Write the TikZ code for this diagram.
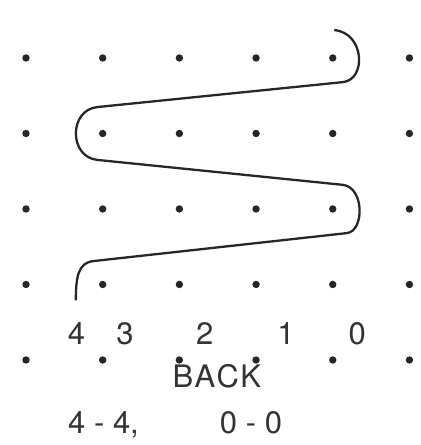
\documentclass[tikz,border=0pt]{standalone}
\usepackage{fontspec}
\setmainfont{TeX Gyre Heros}
\begin{document}
\begin{tikzpicture}[
    x=2cm, y=1.969cm,
    grid dot/.style={circle, fill=black!85, inner sep=0pt, minimum size=5.5pt},
    yarn/.style={line width=1.7pt, black!85},
    label text/.style={font=\fontsize{23}{23}\selectfont, text=black!80, inner sep=0pt, anchor=base}
]
\useasboundingbox (-0.339,-1.126) rectangle (5.143,4.768);
\foreach \i in {0,...,5}
    \foreach \j in {0,...,4}
        \node[grid dot] (dot-\i-\j) at (\i,\j) {};
\draw[yarn] (4.02,4.37)
    .. controls (4.42,4.33) and (4.44,3.71) .. (4.13,3.68)
    -- (0.93,3.35)
    .. controls (0.557,3.31) and (0.557,2.69) .. (0.93,2.65)
    -- (4.13,2.32)
    .. controls (4.415,2.29) and (4.415,1.70) .. (4.18,1.68)
    -- (0.88,1.31)
    .. controls (0.68,1.29) and (0.65,1.1) .. (0.65,0.79);
\foreach \n/\u in {4/0.66, 3/1.29, 2/2.33, 1/3.39, 0/4.32}
    \node[label text] (needle-\n) at (\u,0.199) {\n};
\node[label text] (back) at (2.49,-0.371) {B\kern1pt A\kern1pt C\kern1pt K};
\node[label text, anchor=base west] (range-left) at (0.547,-0.98) {4 - 4,};
\node[label text, anchor=base west] (range-right) at (2.526,-0.98) {0 - 0};
\end{tikzpicture}
\end{document}
